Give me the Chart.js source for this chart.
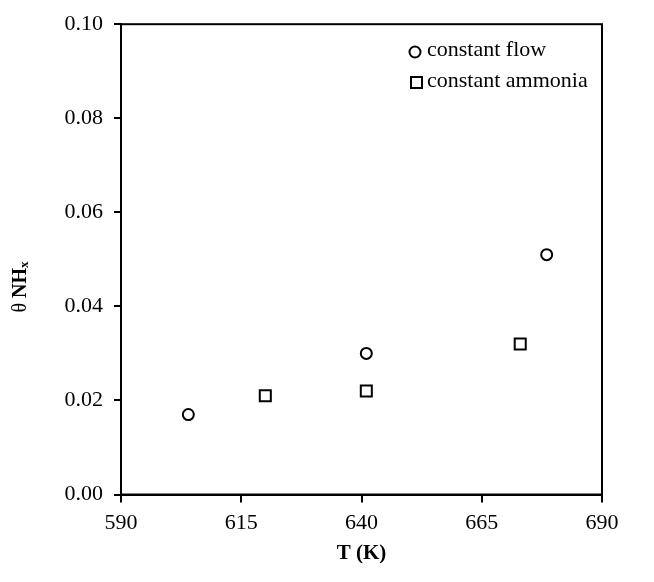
<!DOCTYPE html>
<html>
<head>
<meta charset="utf-8">
<script src="https://cdn.jsdelivr.net/npm/chart.js@4/dist/chart.umd.min.js"></script>
<style>
  html, body { margin: 0; padding: 0; background: #fff; }
  #wrap { width: 654px; height: 582px; }
</style>
</head>
<body>
<div id="wrap"><canvas id="thetaChart" width="654" height="582"></canvas></div>
<script>
// data
const flowT = [604, 641, 678.5];
const flowTheta = [0.017, 0.030, 0.051];
const ammoniaT = [620, 641, 673];
const ammoniaTheta = [0.021, 0.022, 0.032];
const xTicks = [590, 615, 640, 665, 690];
const yTicks = [0, 0.02, 0.04, 0.06, 0.08, 0.10];
const seriesNames = ['constant flow', 'constant ammonia'];

const serif = '"Liberation Serif", "Times New Roman", serif';

function toPoints(xs, ys) {
    return xs.map((x, i) => ({ x: x, y: ys[i] }));
}

// frame, axis titles and in-plot legend
const decorations = {
    id: 'decorations',
    afterDraw(chart) {
        const ctx = chart.ctx;
        const a = chart.chartArea;
        ctx.save();
        ctx.strokeStyle = '#000';
        ctx.lineWidth = 2;
        ctx.strokeRect(a.left, a.top, a.right - a.left, a.bottom - a.top);

        // x title
        ctx.fillStyle = '#000';
        ctx.font = 'bold 21px ' + serif;
        ctx.textAlign = 'center';
        ctx.textBaseline = 'middle';
        ctx.fillText('T (K)', (a.left + a.right) / 2, 554);

        // y title: θ NHx
        ctx.save();
        ctx.translate(21, 287);
        ctx.rotate(-Math.PI / 2);
        ctx.textAlign = 'left';
        const p1 = 'θ ';
        ctx.font = 'bold 20px ' + serif;
        const w2 = ctx.measureText('NH').width;
        ctx.font = 'bold 13px ' + serif;
        const w3 = ctx.measureText('x').width;
        ctx.font = '20px ' + serif;
        const w1 = ctx.measureText(p1).width;
        let sx = -(w1 + w2 + w3) / 2;
        ctx.fillText(p1, sx, 0);
        ctx.font = 'bold 20px ' + serif;
        ctx.fillText('NH', sx + w1, 0);
        ctx.font = 'bold 13px ' + serif;
        ctx.fillText('x', sx + w1 + w2, 4);
        ctx.restore();

        // legend
        ctx.lineWidth = 2;
        ctx.beginPath();
        ctx.arc(415, 52, 5.5, 0, Math.PI * 2);
        ctx.stroke();
        ctx.strokeRect(411, 77, 11, 11);
        ctx.font = '22px ' + serif;
        ctx.textAlign = 'left';
        ctx.textBaseline = 'middle';
        ctx.fillText(seriesNames[0], 427, 50);
        ctx.fillText(seriesNames[1], 427, 81);
        ctx.restore();
    }
};

new Chart(document.getElementById('thetaChart'), {
    type: 'scatter',
    data: {
        datasets: [{
            label: seriesNames[0],
            data: toPoints(flowT, flowTheta),
            pointStyle: 'circle',
            pointRadius: 5.5,
            pointBorderWidth: 2,
            borderColor: '#000',
            backgroundColor: 'rgba(0,0,0,0)'
        }, {
            label: seriesNames[1],
            data: toPoints(ammoniaT, ammoniaTheta),
            pointStyle: 'rect',
            pointRadius: 7.8,
            pointBorderWidth: 2,
            borderColor: '#000',
            backgroundColor: 'rgba(0,0,0,0)'
        }]
    },
    options: {
        responsive: false,
        animation: false,
        layout: { padding: { left: 0, right: 52, top: 22, bottom: 0 } },
        plugins: {
            legend: { display: false },
            tooltip: { enabled: false }
        },
        scales: {
            x: {
                type: 'linear',
                min: 590,
                max: 690,
                afterFit: s => { s.height = 87.5; },
                afterBuildTicks: s => { s.ticks = xTicks.map(v => ({ value: v })); },
                grid: { drawOnChartArea: false, drawTicks: true, tickLength: 8, color: '#000', lineWidth: 2 },
                border: { display: true, color: '#000', width: 2 },
                ticks: {
                    color: '#000',
                    padding: 8,
                    maxRotation: 0,
                    font: { family: serif, size: 22 }
                }
            },
            y: {
                min: 0,
                max: 0.10,
                afterFit: s => { s.width = 121; },
                afterBuildTicks: s => { s.ticks = yTicks.map(v => ({ value: v })); },
                grid: { drawOnChartArea: false, drawTicks: true, tickLength: 7, color: '#000', lineWidth: 2 },
                border: { display: true, color: '#000', width: 2 },
                ticks: {
                    color: '#000',
                    padding: 11,
                    font: { family: serif, size: 22 },
                    callback: v => v.toFixed(2)
                }
            }
        }
    },
    plugins: [decorations]
});
</script>
</body>
</html>
